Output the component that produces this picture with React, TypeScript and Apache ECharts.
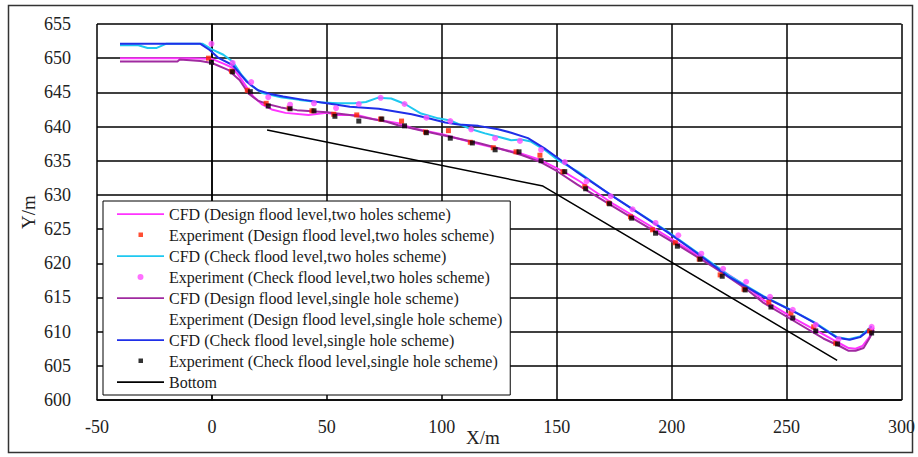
import React, { useEffect, useRef } from "react";
import * as echarts from "echarts";

type P = [number, number];

const xRange = { min: -50, max: 300, step: 50 };
const yRange = { min: 600, max: 655, step: 5 };

const seriesNames = [
  "CFD (Design flood level,two holes scheme)",
  "Experiment (Design flood level,two holes scheme)",
  "CFD (Check flood level,two holes scheme)",
  "Experiment (Check flood level,two holes scheme)",
  "CFD (Design flood level,single hole scheme)",
  "Experiment (Design flood level,single hole scheme)",
  "CFD (Check flood level,single hole scheme)",
  "Experiment (Check flood level,single hole scheme)",
  "Bottom",
];

const cfdDesignTwo: P[] = [
  [-40, 650.0], [-10, 650.0], [0, 649.9], [5, 649.2], [9, 648.6], [12, 647.3], [15, 645.8],
  [18, 644.4], [22, 643.2], [26, 642.5], [32, 642.0], [42, 641.7], [50, 642.0], [55, 641.7],
  [63, 641.7], [70, 641.1], [81, 640.5], [87, 639.8], [101, 638.8], [113, 637.7], [123, 636.9],
  [134, 636.1], [143, 635.1], [153, 633.4], [160, 632.0], [175, 628.6], [190, 625.6],
  [204, 622.7], [218, 619.8], [233, 616.5], [240, 614.6], [254, 611.8], [266, 609.6],
  [273, 608.3], [277, 607.6], [280, 607.5], [283, 607.9], [286, 609.2], [288, 610.6],
];

const expDesignTwo: P[] = [
  [-1.5, 650.0], [8.5, 648.1], [15.4, 645.3], [23.6, 643.4], [33.6, 642.7], [43.5, 642.3],
  [53, 641.8], [63, 641.7], [73.4, 641.1], [82.5, 640.8], [92.9, 639.2], [102.9, 639.4],
  [112.4, 637.7], [122.4, 636.9], [132.3, 636.3], [142.7, 635.8], [152.7, 633.4],
  [162.2, 631.2], [172.6, 628.8], [182.1, 626.8], [191.7, 624.9], [201.6, 623.0],
  [212, 620.6], [221.1, 618.3], [231.5, 616.2], [242.3, 614.3], [251.9, 612.7],
  [261.8, 610.7], [271.4, 608.3], [286.1, 610.1],
];

const cfdCheckTwo: P[] = [
  [-40, 651.9], [-32, 651.9], [-28, 651.5], [-24, 651.5], [-20, 652.1], [-4, 652.1],
  [0, 651.3], [5, 650.5], [9, 649.5], [13, 647.5], [17, 646.0], [22, 644.9], [30, 644.3],
  [38, 643.9], [48, 643.5], [55, 643.4], [62, 643.4], [67, 643.6], [72, 644.2], [78, 644.1],
  [84, 643.3], [91, 641.9], [98.5, 641.2], [103.6, 640.9], [108.5, 640.2], [112.9, 639.6],
  [118.8, 639.0], [124.5, 638.5], [130.2, 638.0], [134.5, 638.1], [138.8, 637.8],
  [144.7, 636.6], [150.5, 635.1], [159.2, 633.4], [173, 630.1], [198, 624.7], [211, 621.6],
  [225, 618.2], [240, 615.2], [254, 612.8], [262, 611.4], [272, 609.2], [277, 608.9],
  [282, 609.3], [287, 610.8],
];

const expCheckTwo: P[] = [
  [-0.2, 652.1], [9, 649.3], [17.1, 646.5], [24.5, 644.3], [34, 643.2], [44.4, 643.4],
  [54, 642.7], [63.9, 643.3], [73.4, 644.2], [83.8, 643.3], [93.3, 641.3], [103.7, 640.8],
  [112.8, 639.6], [123.2, 638.3], [134, 637.9], [143.2, 636.6], [153.5, 634.8], [163, 632.0],
  [173.5, 629.8], [183, 627.9], [193, 625.9], [202.9, 624.1], [212.9, 621.4], [222.4, 619.2],
  [232.4, 617.3], [242.8, 615.1], [252.7, 613.2], [262.7, 611.0], [272.6, 608.9], [287, 610.7],
];

const cfdDesignSingle: P[] = [
  [-40, 649.5], [-15, 649.5], [-14, 649.8], [-5, 649.6], [0, 649.3], [7, 648.3], [12, 646.8],
  [16, 644.8], [20, 643.8], [24, 643.3], [30, 642.8], [37, 642.4], [50, 642.1], [60, 641.7],
  [68, 641.2], [76, 640.7], [81, 640.2], [94, 639.2], [105, 638.4], [116, 637.6], [125, 636.8],
  [135, 635.8], [143, 634.8], [150, 633.5], [159, 631.5], [175, 628.2], [189.5, 625.3],
  [204, 622.4], [218.5, 619.4], [233, 616.1], [240, 614.2], [254.5, 611.3], [266, 609.0],
  [273, 607.9], [277, 607.2], [280, 607.2], [283.5, 607.6], [286, 609.0], [288, 610.3],
];

const expDesignSingle: P[] = [];

const cfdCheckSingle: P[] = [
  [-40, 652.1], [-5, 652.1], [-1, 651.2], [3, 650.0], [9, 649.0], [15, 646.6], [20, 645.3],
  [25, 644.8], [31, 644.4], [40, 643.9], [50, 643.4], [60, 642.9], [72.6, 642.6], [86.9, 641.8],
  [94.2, 641.2], [101.5, 640.6], [107.2, 640.3], [115.9, 640.1], [124.5, 639.6], [130.2, 639.1],
  [137.5, 638.3], [144.7, 636.8], [150.5, 635.4], [159, 633.3], [173.5, 630.0], [198, 624.6],
  [211, 621.5], [225, 618.0], [240, 615.1], [254.5, 612.7], [262, 611.3], [272, 609.1],
  [277.5, 608.8], [282, 609.2], [285, 610.0], [287, 610.8],
];

const expCheckSingle: P[] = [
  [-0.2, 649.4], [9, 648.0], [16.7, 645.1], [24.5, 643.0], [34, 642.6], [44.4, 642.3],
  [53.5, 641.5], [63.9, 640.8], [73.9, 641.1], [83.8, 640.1], [93.3, 639.1], [103.7, 638.3],
  [113.3, 637.6], [123.2, 636.6], [133.6, 636.3], [143.2, 635.0], [153.5, 633.4], [162.6, 630.9],
  [173, 628.7], [182.6, 626.6], [193, 624.4], [202.5, 622.5], [212.4, 620.6], [222, 618.1],
  [232, 616.1], [243.2, 613.6], [252.7, 612.0], [262.7, 610.1], [272.2, 608.2], [287, 609.8],
];

const bottom: P[] = [
  [24, 639.5], [144, 631.3], [272, 605.8],
];

const colors = {
  magenta: "#ff33ff",
  red: "#ff2200",
  cyan: "#1ec8f0",
  pink: "#ff4dff",
  purple: "#a02aa0",
  blue: "#1f2fe8",
  black: "#000000",
};

const FONT = "'Liberation Serif', 'Times New Roman', serif";

const lineIcon = "path://M0,0M47,14M0,6.2h47v1.8h-47z";
const squareIcon = "path://M0,0M47,14M21.5,4.5h4.5v4.5h-4.5z";
const circleIcon = "path://M0,0M47,14M26.5,7a3,3 0 1,1 -6,0a3,3 0 1,1 6,0z";

export default function App() {
  const ref = useRef<HTMLDivElement>(null);
  useEffect(() => {
    if (!ref.current) return;
    const chart = echarts.init(ref.current, null, { renderer: "svg" });
    const line = (name: string, data: P[], color: string, width = 2) => ({
      name,
      type: "line",
      data,
      symbol: "none",
      color,
      lineStyle: { color, width },
      z: 2,
    });
    const scatter = (name: string, data: P[], color: string, symbol: string, size: number) => ({
      name,
      type: "scatter",
      data,
      symbol,
      symbolSize: size,
      color,
      itemStyle: { color },
      z: 3,
    });
    chart.setOption({
      animation: false,
      backgroundColor: "#ffffff",
      grid: { left: 97, right: 13, top: 24, bottom: 57, containLabel: false },
      xAxis: {
        type: "value",
        min: xRange.min,
        max: xRange.max,
        interval: xRange.step,
        axisLine: { show: true, lineStyle: { color: "#000", width: 1.5 } },
        axisTick: { show: false },
        splitLine: { show: true, lineStyle: { color: "#000", width: 1.5 } },
        axisLabel: { color: "#222", fontFamily: FONT, fontSize: 18, margin: 18 },
      },
      yAxis: {
        type: "value",
        min: yRange.min,
        max: yRange.max,
        interval: yRange.step,
        axisLine: { show: true, lineStyle: { color: "#000", width: 1.5 } },
        axisTick: { show: false },
        splitLine: { show: true, lineStyle: { color: "#000", width: 1.5 } },
        axisLabel: { color: "#222", fontFamily: FONT, fontSize: 18, margin: 26 },
      },
      legend: {
        orient: "vertical",
        left: 103,
        top: 201,
        backgroundColor: "#fff",
        borderColor: "#000",
        borderWidth: 1,
        padding: [5, 8, 5, 14],
        itemGap: 5,
        itemWidth: 47,
        itemHeight: 14,
        selectedMode: false,
        textStyle: { color: "#1a1a1a", fontFamily: FONT, fontSize: 16 },
        data: [
          { name: seriesNames[0], icon: lineIcon },
          { name: seriesNames[1], icon: squareIcon },
          { name: seriesNames[2], icon: lineIcon },
          { name: seriesNames[3], icon: circleIcon },
          { name: seriesNames[4], icon: lineIcon },
          { name: seriesNames[5], icon: "rect", itemStyle: { opacity: 0 } },
          { name: seriesNames[6], icon: lineIcon },
          { name: seriesNames[7], icon: squareIcon },
          { name: seriesNames[8], icon: lineIcon },
        ],
      },
      graphic: [
        {
          type: "rect",
          shape: { x: 8.5, y: 5.5, width: 904, height: 447 },
          style: { fill: "none", stroke: "#333", lineWidth: 1.5 },
          silent: true,
          z: -10,
        },
        {
          type: "text",
          left: 466,
          top: 428,
          style: { text: "X/m", fontFamily: FONT, fontSize: 19, fill: "#222" },
        },
        {
          type: "text",
          x: 19,
          y: 229,
          rotation: Math.PI / 2,
          style: { text: "Y/m", fontFamily: FONT, fontSize: 19, fill: "#222" },
        },
      ],
      series: [
        line(seriesNames[0], cfdDesignTwo, colors.magenta),
        scatter(seriesNames[1], expDesignTwo, colors.red, "rect", 5),
        line(seriesNames[2], cfdCheckTwo, colors.cyan),
        scatter(seriesNames[3], expCheckTwo, colors.pink, "circle", 6),
        line(seriesNames[4], cfdDesignSingle, colors.purple),
        scatter(seriesNames[5], expDesignSingle, "rgba(0,0,0,0)", "rect", 5),
        line(seriesNames[6], cfdCheckSingle, colors.blue),
        scatter(seriesNames[7], expCheckSingle, colors.black, "rect", 5),
        line(seriesNames[8], bottom, colors.black, 1.5),
      ],
    });
    return () => chart.dispose();
  }, []);
  return (
    <div
      ref={ref}
      style={{ width: 918, height: 457, position: "absolute", left: 0, top: 0 }}
    />
  );
}
